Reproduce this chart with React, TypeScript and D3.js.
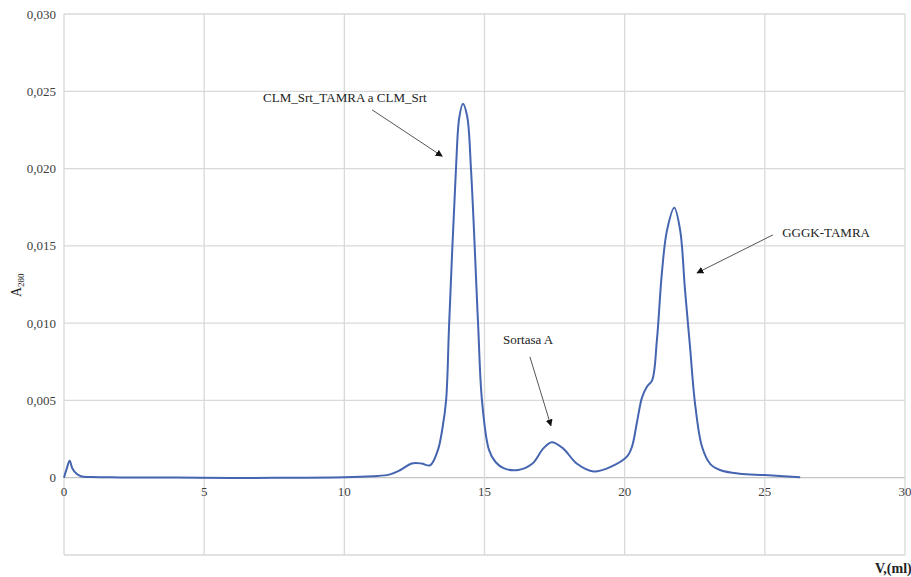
import * as d3 from "d3";

// elution volume (ml) and absorbance at 280 nm
const volume = [
  0, 0.1, 0.2, 0.3, 0.45, 0.6, 1, 2, 4, 6, 8, 10, 11, 11.6, 12, 12.4, 12.75, 13.06,
  13.34, 13.5, 13.63, 13.74, 13.98, 14.1, 14.23, 14.38, 14.52, 14.77, 14.91, 15.16,
  15.4, 15.7, 16.2, 16.7, 17.1, 17.4, 17.8, 18.3, 18.9, 19.5, 20.08, 20.26, 20.44,
  20.62, 20.8, 20.98, 21.15, 21.33, 21.51, 21.77, 21.98, 22.15, 22.33, 22.51, 22.76,
  23.05, 23.4, 24.1, 25, 26.26,
];
const absorbance = [
  0, 0.0006, 0.0011, 0.0006, 0.00025, 0.0001, 0.00004, 0.00002, 0.00001, -0.00002,
  0.0, 0.00003, 0.0001, 0.0002, 0.0005, 0.00092, 0.00092, 0.0008, 0.0018, 0.0032,
  0.005, 0.01, 0.0199, 0.0233, 0.0242, 0.0234, 0.0199, 0.01, 0.005, 0.0018, 0.001,
  0.0006, 0.0005, 0.0009, 0.0019, 0.0023, 0.0019, 0.0009, 0.0004, 0.0007, 0.00136,
  0.002, 0.0036, 0.0052, 0.0059, 0.0063, 0.0089, 0.0133, 0.016, 0.01746, 0.016,
  0.0122, 0.0085, 0.0048, 0.002, 0.0009, 0.0005, 0.00026, 0.00017, 0.00003,
];

const xTicks = [0, 5, 10, 15, 20, 25, 30];
const yTicks = [0, 0.005, 0.01, 0.015, 0.02, 0.025, 0.03];
const yGrid = [-0.005, 0, 0.005, 0.01, 0.015, 0.02, 0.025, 0.03];

const peakLabels = ["CLM_Srt_TAMRA a CLM_Srt", "Sortasa A", "GGGK-TAMRA"];
// label anchor, arrow start, arrow tip in data units (ml, A280)
const labelAt = [
  [7.1, 0.0243],
  [15.66, 0.00866],
  [25.62, 0.01558],
];
const arrowFrom = [
  [10.99, 0.0238],
  [16.62, 0.00782],
  [25.29, 0.01571],
];
const arrowTo = [
  [13.49, 0.0208],
  [17.37, 0.00336],
  [22.58, 0.01325],
];

const W = 911;
const H = 577;
const margin = { top: 14, right: 6, bottom: 22, left: 64 };

const fmt = (v: number) => (v === 0 ? "0" : d3.format(".3f")(v).replace(".", ","));

export default function App() {
  const x = d3.scaleLinear().domain([0, 30]).range([margin.left, W - margin.right]);
  const y = d3.scaleLinear().domain([-0.005, 0.03]).range([H - margin.bottom, margin.top]);

  const pts = volume.map((v, i) => [v, absorbance[i]] as [number, number]);
  const line = d3
    .line<[number, number]>()
    .x((d) => x(d[0]))
    .y((d) => y(d[1]))
    .curve(d3.curveCatmullRom.alpha(0.5));

  const font = "Liberation Serif, DejaVu Serif, serif";

  return (
    <svg
      width={W}
      height={H}
      style={{ position: "absolute", left: 0, top: 0, background: "#fff", fontFamily: font }}
    >
      <defs>
        <marker
          id="head"
          viewBox="0 0 10 10"
          refX="9"
          refY="5"
          markerWidth="7"
          markerHeight="7"
          orient="auto"
          markerUnits="userSpaceOnUse"
        >
          <path d="M0,0 L10,5 L0,10 z" fill="#111" />
        </marker>
      </defs>

      {yGrid.map((t) => (
        <line
          key={"hy" + t}
          x1={x(0)}
          x2={x(30)}
          y1={y(t)}
          y2={y(t)}
          stroke={t === 0 ? "#c4c4c4" : "#d9d9d9"}
          strokeWidth={1.3}
        />
      ))}
      {xTicks.map((t) => (
        <line
          key={"vx" + t}
          x1={x(t)}
          x2={x(t)}
          y1={y(0.03)}
          y2={y(-0.005)}
          stroke="#d9d9d9"
          strokeWidth={1.3}
        />
      ))}

      {yTicks.map((t) => (
        <text
          key={"ty" + t}
          x={x(0) - 8}
          y={y(t)}
          dy="0.35em"
          textAnchor="end"
          fontSize={13}
          fill="#404040"
        >
          {fmt(t)}
        </text>
      ))}
      {xTicks.map((t) => (
        <text
          key={"tx" + t}
          x={x(t)}
          y={y(0) + 18}
          textAnchor="middle"
          fontSize={13}
          fill="#404040"
        >
          {t}
        </text>
      ))}

      <path d={line(pts) ?? ""} fill="none" stroke="#4565b0" strokeWidth={2} />

      {peakLabels.map((lab, i) => (
        <g key={lab}>
          <text x={x(labelAt[i][0])} y={y(labelAt[i][1])} fontSize={13} fill="#222">
            {lab}
          </text>
          <line
            x1={x(arrowFrom[i][0])}
            y1={y(arrowFrom[i][1])}
            x2={x(arrowTo[i][0])}
            y2={y(arrowTo[i][1])}
            stroke="#555"
            strokeWidth={1}
            markerEnd="url(#head)"
          />
        </g>
      ))}

      <text transform="translate(21,297) rotate(-90)" fontSize={14} fill="#222">
        A<tspan fontSize={9} dy="3">280</tspan>
      </text>
      <text x={875} y={573} fontSize={14} fontWeight="bold" fill="#222">
        V,(ml)
      </text>
    </svg>
  );
}
